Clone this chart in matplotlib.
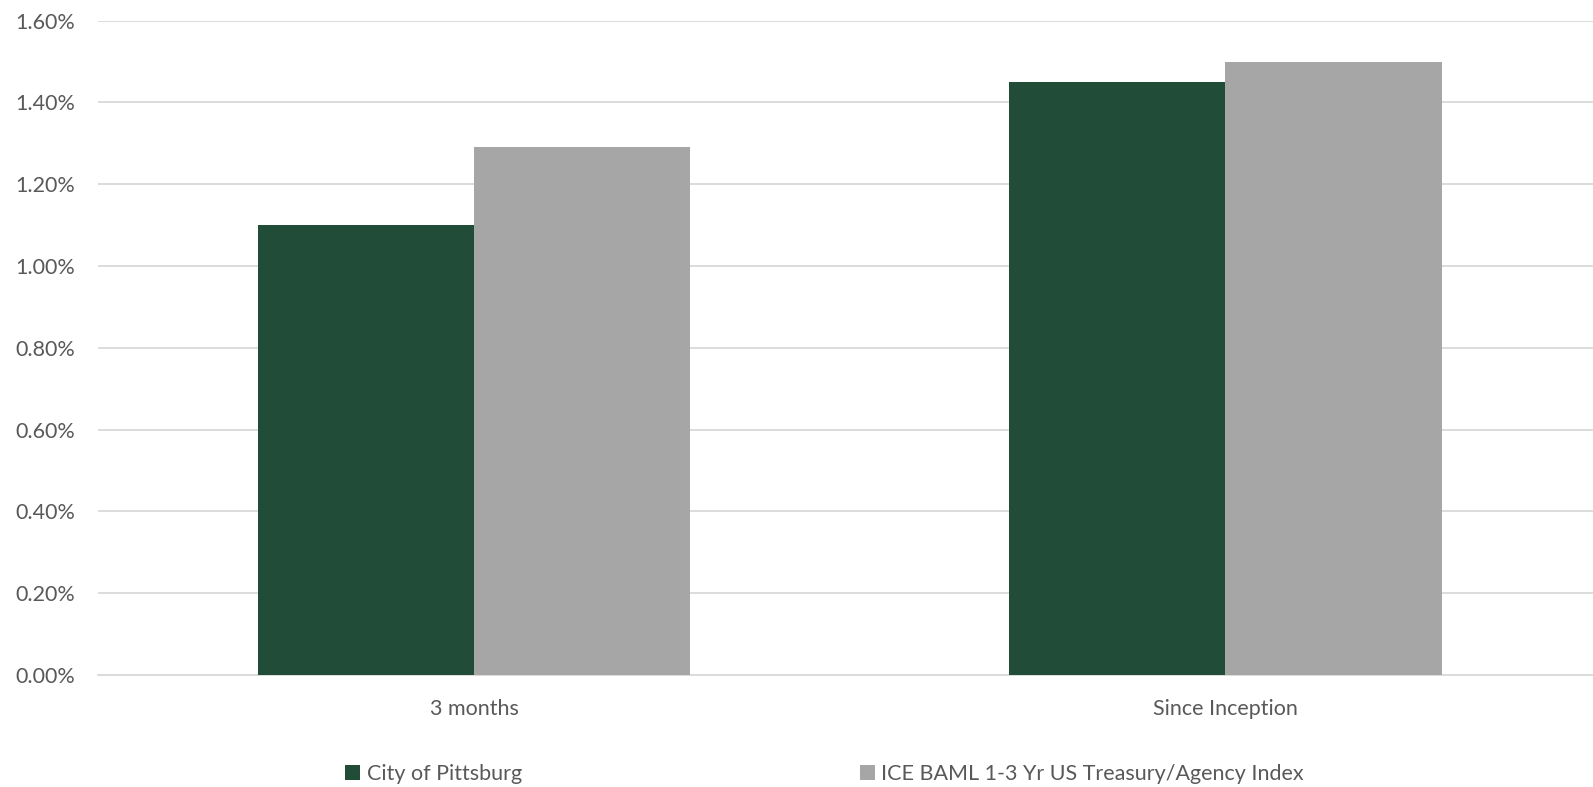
import numpy as np
import matplotlib
matplotlib.use("Agg")
import matplotlib.pyplot as plt
from matplotlib.ticker import FuncFormatter

plt.rcParams['font.family'] = ['Lato', 'DejaVu Sans']

# returns (in %)
categories = ['3 months', 'Since Inception']
series_names = ['City of Pittsburg', 'ICE BAML 1-3 Yr US Treasury/Agency Index']
city_returns = [1.10, 1.45]
index_returns = [1.29, 1.50]
colors = ['#214c37', '#a6a6a6']

fig = plt.figure(figsize=(15.93, 7.87), dpi=100)
ax = fig.add_axes([0.0618, 0.1423, 0.9432, 0.8314])

x = np.arange(len(categories))
w = 0.288
ax.bar(x - w/2, city_returns, w, color=colors[0], label=series_names[0], zorder=3)
ax.bar(x + w/2, index_returns, w, color=colors[1], label=series_names[1], zorder=3)

ax.set_xlim(-0.5, 1.5)
ax.set_ylim(0, 1.6)
ax.set_yticks(np.arange(0, 1.61, 0.2))
ax.yaxis.set_major_formatter(FuncFormatter(lambda v, p: f'{v:.2f}%'))
ax.set_xticks(x)
ax.set_xticklabels(categories)

ax.grid(axis='y', color='#d9d9d9', linewidth=1.3, zorder=0)
for s in ['top', 'right', 'left']:
    ax.spines[s].set_visible(False)
ax.spines['bottom'].set_color('#d9d9d9')
ax.spines['bottom'].set_linewidth(1.3)
ax.tick_params(axis='both', length=0, labelsize=15.5, colors='#595959')
ax.tick_params(axis='y', pad=17)
ax.tick_params(axis='x', pad=17)

fig.legend(loc='center', bbox_to_anchor=(0.5175, 0.016), ncol=2, frameon=False,
           fontsize=15.5, labelcolor='#595959', handlelength=0.7, handleheight=0.7,
           handletextpad=0.3, columnspacing=15.7)

fig.savefig('out.png', dpi=100)
